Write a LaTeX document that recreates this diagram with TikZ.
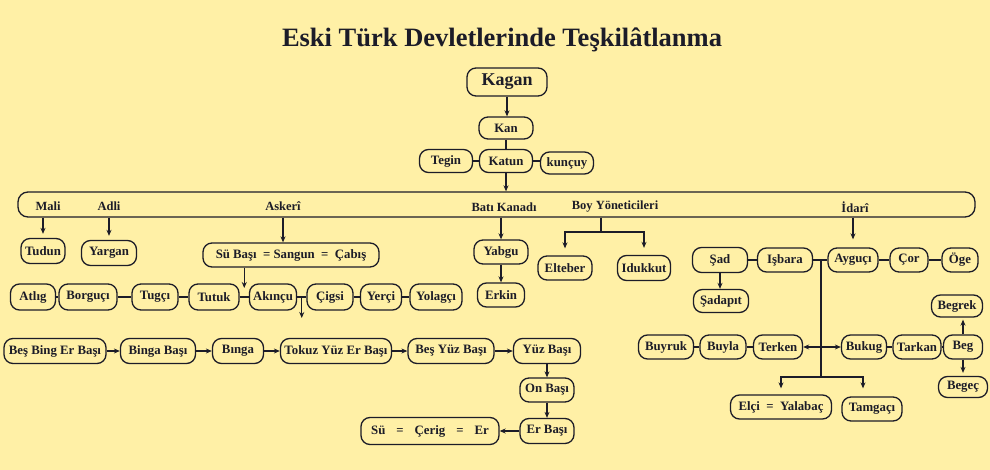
\documentclass[tikz,border=0pt]{standalone}
\usepackage{fontspec}
\setmainfont{Liberation Serif}
\usetikzlibrary{arrows.meta,calc}
\definecolor{bg}{RGB}{255,240,166}
\definecolor{ink}{RGB}{28,28,40}
\begin{document}
\begin{tikzpicture}[x=1pt,y=-1pt,
  box/.style={draw=ink, line width=1.3pt, rounded corners=9pt, inner sep=0pt,
    font=\bfseries\fontsize{12.8}{14}\selectfont, text=ink, minimum height=24pt},
  lbl/.style={inner sep=0pt, font=\bfseries\fontsize{12.5}{14}\selectfont, text=ink},
  conn/.style={draw=ink, line width=1.3pt},
  arr/.style={conn, -{Stealth[length=6pt,width=5pt]}},
  sarr/.style={arr, shorten >=4pt},
  darr/.style={conn, {Stealth[length=6pt,width=5pt]}-{Stealth[length=6pt,width=5pt]}}]
\fill[bg] (0,0) rectangle (990,470);
\useasboundingbox (0,0) rectangle (990,470);

% title
\node[lbl, font=\bfseries\fontsize{26.5}{30}\selectfont] (title) at (502,40) {Eski Türk Devletlerinde Teşkilâtlanma};

% top chain
\node[box, minimum width=80pt, minimum height=28pt, font=\bfseries\fontsize{18}{20}\selectfont] (kagan) at (507,82) {Kagan};
\node[box, minimum width=54pt, minimum height=22pt] (kan) at (506,128) {Kan};
\node[box, minimum width=53pt, minimum height=23pt] (katun) at (506,161) {Katun};
\node[box, minimum width=53pt, minimum height=23pt] (tegin) at (446,161) {Tegin};
\node[box, minimum width=53pt, minimum height=22pt] (kuncuy) at (567,163) {kunçuy};

% bar
\node[box, minimum width=957pt, minimum height=25pt, rounded corners=10pt] (bar) at (496.5,204.5) {};
\node[lbl] (lmali) at (48,206) {Mali};
\node[lbl] (ladli) at (109,206) {Adli};
\node[lbl] (laskeri) at (283,206) {Askerî};
\node[lbl] (lbati) at (504,207) {Batı Kanadı};
\node[lbl] (lboy) at (615,207) {Boy Yöneticileri};
\node[lbl] (lidari) at (855,207) {İdarî};

% second level
\node[box, minimum width=44pt, minimum height=25pt] (tudun) at (43,251) {Tudun};
\node[box, minimum width=55pt, minimum height=25pt] (yargan) at (109,253) {Yargan};
\node[box, minimum width=176pt] (subasi) at (291,255) {Sü Başı \ = Sangun \ = \ Çabış};
\node[box, minimum width=54pt] (yabgu) at (501,252) {Yabgu};
\node[box, minimum width=47pt] (erkin) at (501,295) {Erkin};
\node[box, minimum width=54pt] (elteber) at (565,268) {Elteber};
\node[box, minimum width=53pt, minimum height=25pt] (idukkut) at (644,268) {Idukkut};

% askeri row
\node[box, minimum width=45pt, minimum height=26pt] (atlig) at (33,297) {Atlıg};
\node[box, minimum width=58pt, minimum height=26pt] (borguci) at (88,297) {Borguçı};
\node[box, minimum width=46pt, minimum height=26pt] (tugci) at (155,297) {Tugçı};
\node[box, minimum width=50pt, minimum height=26pt] (tutuk) at (214,297) {Tutuk};
\node[box, minimum width=47pt, minimum height=26pt] (akincu) at (273,297) {Akınçu};
\node[box, minimum width=46pt, minimum height=26pt] (cigsi) at (330,297) {Çigsi};
\node[box, minimum width=41pt, minimum height=26pt] (yerci) at (381,297) {Yerçi};
\node[box, minimum width=52pt, minimum height=26pt] (yolagci) at (436,297) {Yolagçı};

% bottom row
\node[box, minimum width=102pt, minimum height=25pt] (besbing) at (55,351) {Beş Bing Er Başı};
\node[box, minimum width=75pt, minimum height=25pt] (bingabasi) at (158,351) {Binga Başı};
\node[box, minimum width=51pt, minimum height=25pt] (binga) at (238,351) {Bınga};
\node[box, minimum width=111pt, minimum height=25pt] (tokuz) at (336,351) {Tokuz Yüz Er Başı};
\node[box, minimum width=86pt, minimum height=25pt] (besyuz) at (451,351) {Beş Yüz Başı};
\node[box, minimum width=67pt, minimum height=25pt] (yuzbasi) at (547,351) {Yüz Başı};
\node[box, minimum width=54pt] (onbasi) at (547,390) {On Başı};
\node[box, minimum width=54pt, minimum height=25pt] (erbasi) at (547,431) {Er Başı};
\node[box, minimum width=138pt, minimum height=27pt] (su) at (430,431) {Sü\hspace{11pt}=\hspace{11pt}Çerig\hspace{11pt}=\hspace{11pt}Er};

% idari
\node[box, minimum width=55pt, minimum height=25pt] (sad) at (720,260) {Şad};
\node[box, minimum width=55pt] (isbara) at (785,260) {Işbara};
\node[box, minimum width=50pt] (ayguci) at (853,260) {Ayguçı};
\node[box, minimum width=38pt] (cor) at (909,260) {Çor};
\node[box, minimum width=36pt] (oge) at (960,260) {Öge};
\node[box, minimum width=55pt, minimum height=23pt] (sadapit) at (721,301) {Şadapıt};
\node[box, minimum width=55pt] (buyruk) at (666,347) {Buyruk};
\node[box, minimum width=46pt] (buyla) at (723,347) {Buyla};
\node[box, minimum width=49pt] (terken) at (778,347) {Terken};
\node[box, minimum width=45pt] (bukug) at (864,347) {Bukug};
\node[box, minimum width=48pt] (tarkan) at (917,347) {Tarkan};
\node[box, minimum width=39pt] (beg) at (963,347) {Beg};
\node[box, minimum width=51pt, minimum height=22pt] (begrek) at (957,306) {Begrek};
\node[box, minimum width=49pt, minimum height=21pt] (begec) at (963,387) {Begeç};
\node[box, minimum width=101pt] (elci) at (781,407) {Elçi \ = \ Yalabaç};
\node[box, minimum width=60pt] (tamgaci) at (872,409) {Tamgaçı};

% connectors: top
\draw[arr] (kagan.south) -- (kagan.south |- kan.north);
\draw[conn] (kan.south) -- (kan.south |- katun.north);
\draw[conn] (tegin.east) -- (katun.west);
\draw[conn] (katun.east) -- (katun.east -| kuncuy.west);
\draw[arr] (katun.south) -- (katun.south |- bar.north);

% from bar
\draw[sarr] (bar.south -| tudun) -- (tudun.north);
\draw[sarr] (bar.south -| yargan) -- (yargan.north);
\draw[arr] (bar.south -| laskeri) -- (laskeri |- subasi.north);
\draw[arr] (bar.south -| yabgu) -- (yabgu.north);
\draw[arr] (yabgu.south) -- (yabgu.south |- erkin.north);
\coordinate (boyj) at (601,232);
\draw[conn] (bar.south -| boyj) -- (boyj);
\draw[arr, shorten >=7pt] (boyj) -| (elteber.north);
\draw[arr, shorten >=7pt] (boyj) -| (idukkut.north);
\draw[arr, shorten >=8pt] (bar.south -| ayguci) -- (ayguci.north);

% askeri row
\draw[conn] (atlig) -- (borguci);
\draw[conn] (borguci) -- (tugci);
\draw[conn] (tugci) -- (tutuk);
\draw[conn] (tutuk) -- (akincu);
\draw[conn] (akincu) -- (cigsi);
\draw[conn] (cigsi) -- (yerci);
\draw[conn] (yerci) -- (yolagci);
\coordinate (ta) at ($(tutuk.east)!0.5!(akincu.west)$);
\draw[arr] (subasi.south -| ta) -- ([yshift=9pt]ta);
\coordinate (ac) at ($(akincu.east)!0.5!(cigsi.west)$);
\draw[arr] (ac) -- ++(0,21);

% bottom chain
\draw[arr] (besbing) -- (bingabasi);
\draw[arr] (bingabasi) -- (binga);
\draw[arr] (binga) -- (tokuz);
\draw[arr] (tokuz) -- (besyuz);
\draw[arr] (besyuz) -- (yuzbasi);
\draw[arr] (yuzbasi) -- (onbasi);
\draw[arr] (onbasi) -- (erbasi);
\draw[arr] (erbasi) -- (su);

% idari
\draw[conn] (sad) -- (isbara);
\draw[conn] (isbara) -- (ayguci);
\draw[conn] (ayguci) -- (cor);
\draw[conn] (cor) -- (oge);
\draw[arr] (sad.south) -- (sad.south |- sadapit.north);
\coordinate (ij) at (821,260);
\coordinate (ij2) at (821,377);
\draw[conn] (ij) -- (ij2);
\draw[arr, shorten >=6pt] (ij2) -| (elci.north);
\draw[arr, shorten >=8pt] (ij2) -| ([xshift=-9pt]tamgaci.north);
\draw[conn] (buyruk) -- (buyla);
\draw[conn] (buyla) -- (terken);
\draw[darr] (terken) -- (bukug);
\draw[conn] (bukug) -- (tarkan);
\draw[conn] (tarkan) -- (beg);
\draw[arr, shorten >=2pt] (beg.north) -- (beg.north |- begrek.south);
\draw[arr, shorten >=3pt] (beg.south) -- (beg.south |- begec.north);
\end{tikzpicture}
\end{document}
